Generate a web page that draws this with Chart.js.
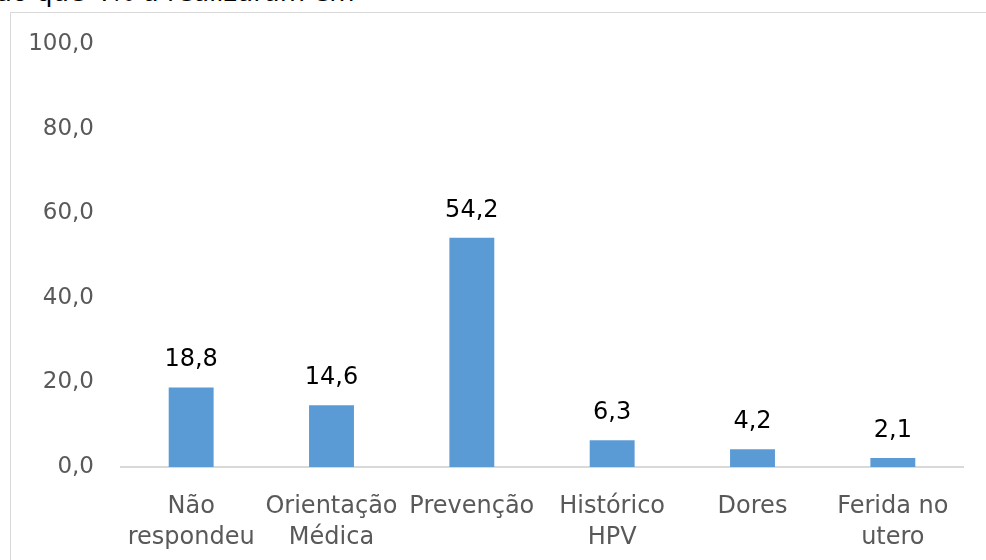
<!DOCTYPE html>
<html>
<head>
<meta charset="utf-8">
<script src="https://cdn.jsdelivr.net/npm/chart.js@4/dist/chart.umd.min.js"></script>
<style>
  html, body { margin: 0; padding: 0; background: #fff; overflow: hidden; }
  body { width: 986px; height: 560px; position: relative; }
  #topText { position: absolute; left: -4px; top: -23px; font-family: "DejaVu Sans", sans-serif; font-size: 26px; line-height: 30px; color: #000; white-space: nowrap; }
  #frame { position: absolute; left: 10px; top: 12px; width: 1000px; height: 600px; border: 1px solid #d9d9d9; box-sizing: border-box; }
  #wrap { position: absolute; left: 0; top: 0; width: 986px; height: 560px; }
</style>
</head>
<body>
<div id="topText">ão que 4% a realizaram em</div>
<div id="frame"></div>
<div id="wrap"><canvas id="c" width="986" height="560"></canvas></div>
<script>
const categories = [['Não','respondeu'], ['Orientação','Médica'], ['Prevenção'], ['Histórico','HPV'], ['Dores'], ['Ferida no','utero']];
const values = [18.8, 14.6, 54.2, 6.3, 4.2, 2.1];
const yTicks = [0, 20, 40, 60, 80, 100];

const fmt = v => Number(v).toFixed(1).replace('.', ',');
const FONT = '"DejaVu Sans", sans-serif';

const labelPlugin = {
  id: 'valueLabels',
  afterDatasetsDraw(chart) {
    const ctx = chart.ctx;
    const meta = chart.getDatasetMeta(0);
    ctx.save();
    ctx.font = '24px ' + FONT;
    ctx.fillStyle = '#000000';
    ctx.textAlign = 'center';
    ctx.textBaseline = 'alphabetic';
    meta.data.forEach((bar, i) => {
      ctx.fillText(fmt(values[i]), bar.x, bar.y - 21);
    });
    ctx.restore();
  }
};

new Chart(document.getElementById('c'), {
  type: 'bar',
  data: {
    labels: categories,
    datasets: [{
      data: values,
      backgroundColor: '#5b9bd5',
      borderWidth: 0,
      barPercentage: 0.32,
      categoryPercentage: 1.0
    }]
  },
  options: {
    responsive: false,
    animation: false,
    devicePixelRatio: 1,
    layout: { padding: { left: 0, right: 23, top: 44, bottom: 0 } },
    plugins: { legend: { display: false }, tooltip: { enabled: false } },
    scales: {
      x: {
        grid: { display: false, drawTicks: false },
        border: { display: true, color: '#d9d9d9', width: 2 },
        ticks: {
          color: '#595959',
          font: { family: FONT, size: 24, lineHeight: 1.3 },
          padding: 24,
          autoSkip: false,
          maxRotation: 0,
          minRotation: 0
        },
        afterFit(scale) { scale.height = 93; }
      },
      y: {
        min: 0, max: 100,
        afterBuildTicks(scale) { scale.ticks = yTicks.map(v => ({ value: v })); },
        grid: { display: false, drawTicks: false },
        border: { display: false },
        ticks: {
          color: '#595959',
          font: { family: FONT, size: 23 },
          padding: 27,
          callback: v => fmt(v)
        },
        afterFit(scale) { scale.width = 121; }
      }
    }
  },
  plugins: [labelPlugin]
});
</script>
</body>
</html>
